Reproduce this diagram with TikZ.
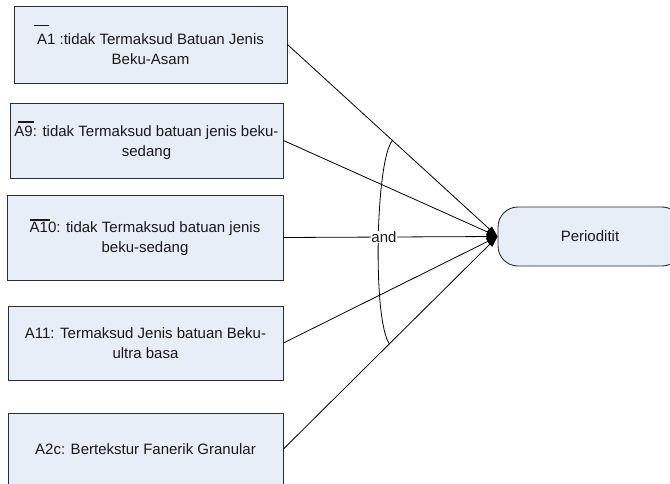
\documentclass[tikz,border=0pt]{standalone}
\usepackage{fontspec}
\setmainfont{Liberation Sans}
\usetikzlibrary{arrows.meta}
\definecolor{boxfill}{RGB}{232,238,248}
\definecolor{edge}{RGB}{45,45,45}
\definecolor{ink}{RGB}{25,25,25}
% bar drawn over the start of a label: shift, raise, length
\newcommand{\ovbar}[3]{\rlap{\kern#1\raisebox{#2}{\rule{#3}{1.6pt}}}}
\begin{document}
\begin{tikzpicture}[x=1pt,y=-1pt,
  premise/.style={draw=edge,line width=0.9pt,fill=boxfill,text=ink,
    align=center,inner sep=0pt,font=\fontsize{15pt}{20pt}\selectfont},
  goal/.style={draw=edge,line width=0.9pt,fill=boxfill,text=ink,
    rounded corners=20pt,minimum width=184pt,minimum height=59pt,
    font=\fontsize{15pt}{20pt}\selectfont},
  conn/.style={draw=black,line width=0.8pt,-{Triangle[length=11pt,width=7pt]}},
  andlabel/.style={fill=white,inner sep=0.5pt,text=ink,font=\fontsize{15pt}{18pt}\selectfont}]
\useasboundingbox (0,0) rectangle (670,484);
\clip (0,0) rectangle (670,484);

% premises
\node[premise,minimum width=273pt,minimum height=77pt] (b1) at (150.5,44.5)
  {\ovbar{-3pt}{18pt}{15pt}A1 :tidak Termaksud Batuan Jenis\\Beku-Asam};
\node[premise,minimum width=273pt,minimum height=75pt] (b2) at (146.5,140.5)
  {\ovbar{4pt}{14pt}{16pt}A9: tidak Termaksud batuan jenis beku-\\sedang};
\node[premise,minimum width=276pt,minimum height=85pt] (b3) at (145,237.5)
  {\ovbar{0pt}{12pt}{20pt}A10: tidak Termaksud batuan jenis\\beku-sedang};
\node[premise,minimum width=275pt,minimum height=74pt] (b4) at (145.5,343)
  {A11: Termaksud Jenis batuan Beku-\\ultra basa};
\node[premise,minimum width=275pt,minimum height=72pt] (b5) at (145.5,449)
  {A2c: Bertekstur Fanerik Granular};

% conclusion
\node[goal] (per) at (590,236.5) {Perioditit};

% rules
\draw[conn] (b1.east) -- coordinate[pos=0.5] (arcTop) (per.west);
\draw[conn] (b2.east) -- (per.west);
\draw[conn] (b3.east) -- (per.west);
\draw[conn] (b4.east) -- (per.west);
\draw[conn] (b5.east) -- coordinate[pos=0.495] (arcBot) (per.west);

% conjunction arc
\draw[line width=0.8pt] (arcTop) .. controls +(-17,19) and +(-17,-23.5) .. (arcBot);
\node[andlabel] (andtxt) at (384,237) {and};
\end{tikzpicture}
\end{document}
